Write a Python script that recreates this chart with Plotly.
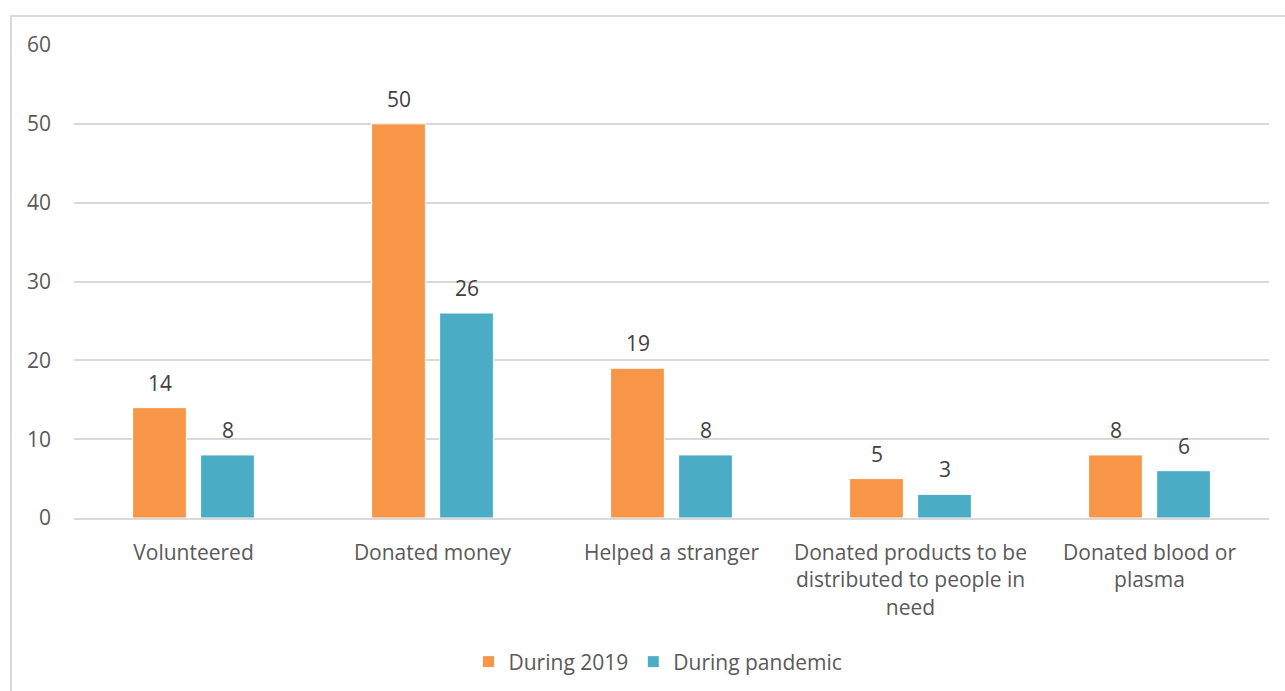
import plotly.graph_objects as go

categories = ["Volunteered", "Donated money", "Helped a stranger",
              "Donated products to be<br>distributed to people in<br>need",
              "Donated blood or<br>plasma"]
series_names = ["During 2019", "During pandemic"]
during_2019 = [14, 50, 19, 5, 8]
during_pandemic = [8, 26, 8, 3, 6]
colors = ["#F79646", "#4BACC6"]
y_ticks = [0, 10, 20, 30, 40, 50, 60]

FONT = "Open Sans"
FS = 21
W, H = 1285, 691
ML, MR, MT, MB = 74, 16, 45, 173

fig = go.Figure()
for name, vals, col in zip(series_names, [during_2019, during_pandemic], colors):
    fig.add_trace(go.Bar(
        x=categories, y=vals, name=name,
        marker=dict(color=col, line=dict(color="white", width=1)),
    ))

pw = W - ML - MR
slot_px = 68
annotations = []
for i, vals in enumerate([during_2019, during_pandemic]):
    shift = -slot_px / 2 if i == 0 else slot_px / 2
    for c, v in zip(categories, vals):
        annotations.append(dict(
            x=c, y=v, xref="x", yref="y", text=str(v), showarrow=False,
            xshift=shift, yshift=9, yanchor="bottom",
            font=dict(family=FONT, size=FS, color="#404040"),
        ))

ph = H - MT - MB
fig.update_layout(
    width=W, height=H,
    margin=dict(l=ML, r=MR, t=MT, b=MB, autoexpand=False),
    paper_bgcolor="white", plot_bgcolor="white",
    barmode="group", bargap=0.431, bargroupgap=0.21,
    font=dict(family=FONT, size=FS, color="#595959"),
    showlegend=True,
    legend=dict(orientation="h", x=(658 - ML) / pw, xanchor="center", y=(518 - 662) / ph,
                yanchor="middle", font=dict(family=FONT, size=FS, color="#595959"),
                traceorder="normal"),
    annotations=annotations,
    shapes=[dict(type="rect", xref="paper", yref="paper",
                 x0=(11 - ML) / pw, x1=(W + 20 - ML) / pw,
                 y0=(MT + ph - (H + 20)) / ph, y1=(MT + ph - 16) / ph,
                 line=dict(color="#D9D9D9", width=2), layer="below")],
    xaxis=dict(showgrid=False, showline=True, linecolor="#D9D9D9", linewidth=1.5,
               ticks="", ticklabelstandoff=15, automargin=False,
               tickfont=dict(family=FONT, size=FS, color="#595959")),
    yaxis=dict(range=[0, 60], tickvals=y_ticks, showgrid=True, gridcolor="#D9D9D9",
               gridwidth=1.5, zeroline=False, showline=False, ticks="",
               ticklabelstandoff=22, automargin=False,
               tickfont=dict(family=FONT, size=FS, color="#595959")),
)

fig.write_html("out.html", config={"displayModeBar": False},
               post_script="document.body.style.margin='0';")
